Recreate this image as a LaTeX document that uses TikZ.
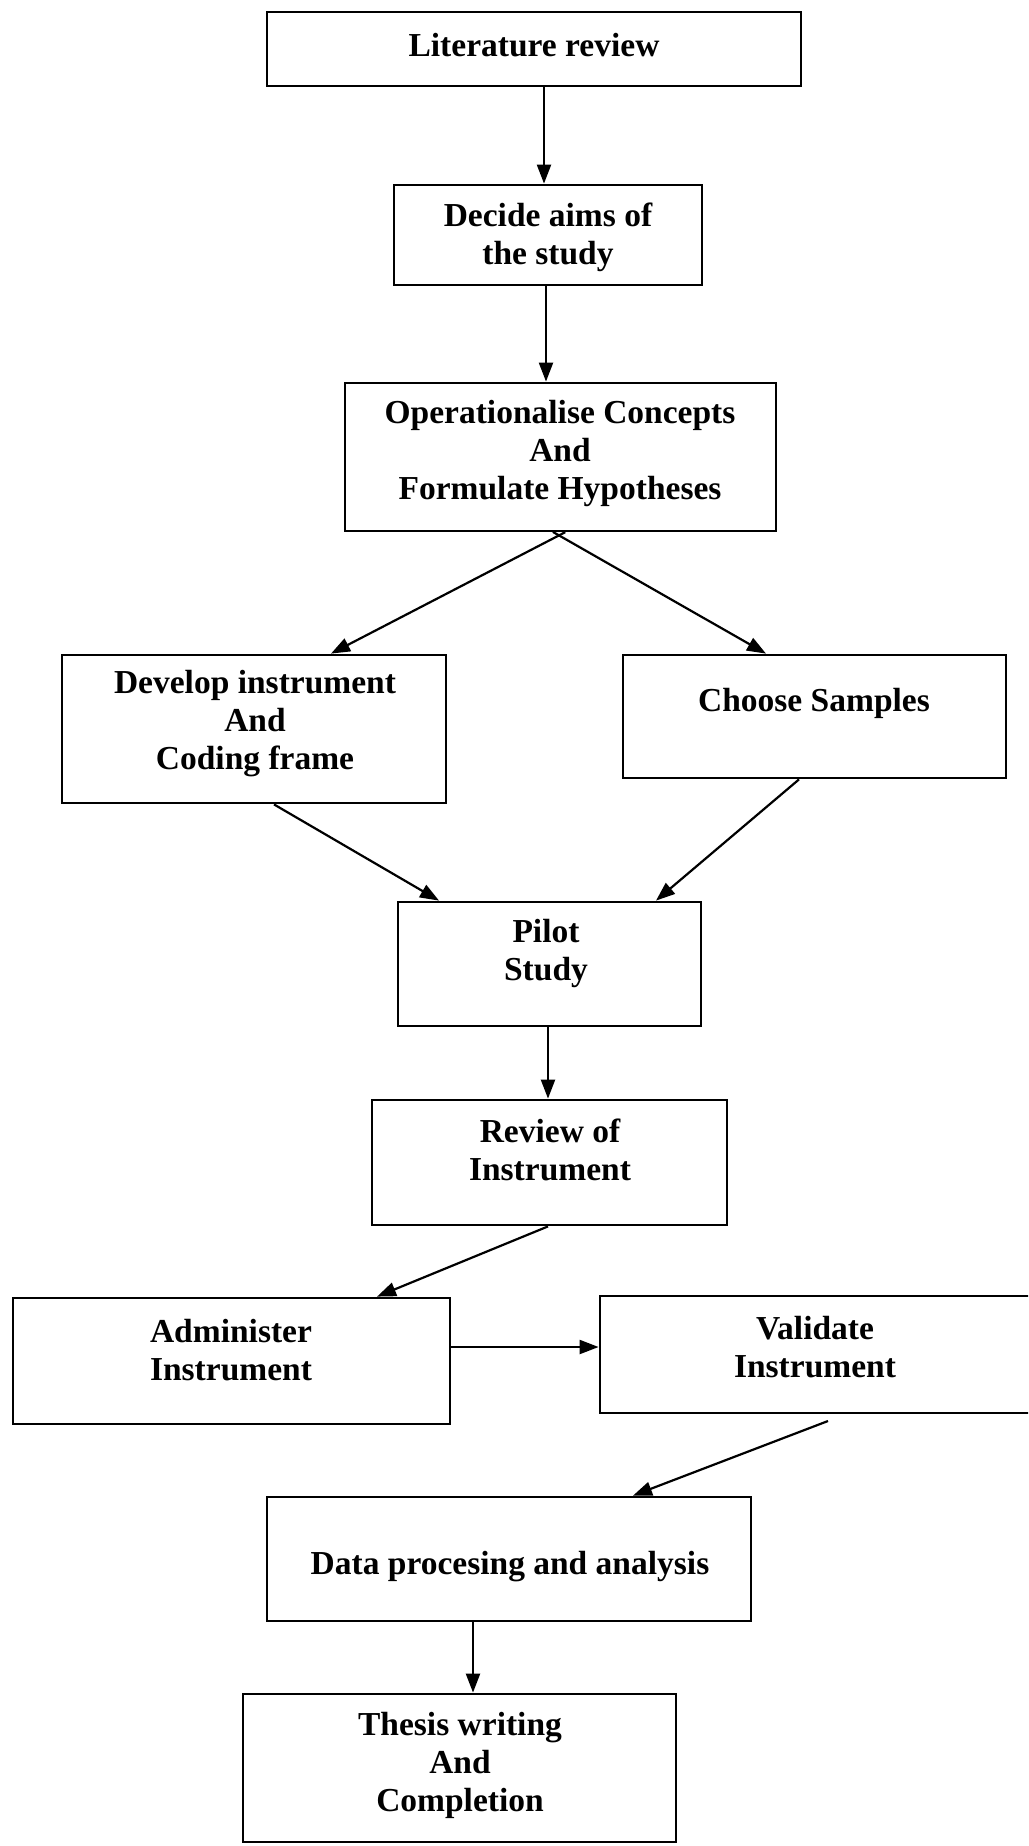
\documentclass[tikz,border=0pt]{standalone}
\usepackage{fontspec}
\setmainfont{Liberation Serif}
\usetikzlibrary{arrows.meta,calc}

\tikzset{
  box/.style={draw=black, line width=2.8pt, rectangle, inner sep=0pt, fill=white},
  lbl/.style={align=center, inner sep=0pt,
    font=\fontsize{33.5}{38}\selectfont\bfseries},
  arr/.style={line width=2.2pt, -{Triangle[length=19pt,width=14pt]}},
}

\begin{document}
\begin{tikzpicture}[x=1pt, y=-1pt]
  \useasboundingbox (0,0) rectangle (1028,1846);
  \clip (0,0) rectangle (1028,1846);
  \fill[white] (0,0) rectangle (1028,1846);

  % boxes
  \node[box, minimum width=534pt, minimum height=74pt]  (lit)    at (534,49)      {};
  \node[box, minimum width=308pt, minimum height=100pt] (aims)   at (548,235)     {};
  \node[box, minimum width=431pt, minimum height=148pt] (oper)   at (560.5,457)   {};
  \node[box, minimum width=384pt, minimum height=148pt] (dev)    at (254,729)     {};
  \node[box, minimum width=383pt, minimum height=123pt] (samp)   at (814.5,716.5) {};
  \node[box, minimum width=303pt, minimum height=124pt] (pilot)  at (549.5,964)   {};
  \node[box, minimum width=355pt, minimum height=125pt] (rev)    at (549.5,1162.5){};
  \node[box, minimum width=437pt, minimum height=126pt] (adm)    at (231.5,1361)  {};
  \node[box, minimum width=432pt, minimum height=117pt] (val)    at (816,1354.5)  {};
  \node[box, minimum width=484pt, minimum height=124pt] (data)   at (509,1559)    {};
  \node[box, minimum width=433pt, minimum height=148pt] (thesis) at (459.5,1768)  {};

  % box texts
  \node[lbl] (lit-t)    at (534,45)   {Literature review};
  \node[lbl] (aims-t)   at (548,237)  {Decide aims of\\the study};
  \node[lbl] (oper-t)   at (560,453)  {Operationalise Concepts\\And\\Formulate Hypotheses};
  \node[lbl] (dev-t)    at (255,724)  {Develop instrument\\And\\Coding frame};
  \node[lbl] (samp-t)   at (814,703)  {Choose Samples};
  \node[lbl] (pilot-t)  at (546,953)  {Pilot\\Study};
  \node[lbl] (rev-t)    at (550,1150) {Review of\\Instrument};
  \node[lbl] (adm-t)    at (231,1350) {Administer\\Instrument};
  \node[lbl] (val-t)    at (815,1347) {Validate\\Instrument};
  \node[lbl] (data-t)   at (510,1567) {Data procesing and analysis};
  \node[lbl] (thesis-t) at (460,1765) {Thesis writing\\And\\Completion};

  % connectors
  \coordinate (vs) at (828,1421);
  \draw[arr] ($(lit.south)+(10,0)$)   -- ($(aims.north)+(-4,0)$);
  \draw[arr] ($(aims.south)+(-2,0)$)  -- ($(oper.north)+(-14.5,0)$);
  \draw[arr, shorten <=-7pt] ($(oper.south)+(-1.5,3)$) -- ($(dev.north)+(77,0)$);
  \draw[arr, shorten <=-7pt] ($(oper.south)+(-1.5,3)$) -- ($(samp.north)+(-48.5,0)$);
  \draw[arr] ($(dev.south)+(20,0)$)   -- ($(pilot.north)+(-110.5,0)$);
  \draw[arr] ($(samp.south)+(-15.5,0)$) -- ($(pilot.north)+(106.5,0)$);
  \draw[arr] ($(pilot.south)+(-1.5,0)$) -- ($(rev.north)+(-1.5,0)$);
  \draw[arr] ($(rev.south)+(-1.5,0)$) -- ($(adm.north)+(145.5,0)$);
  \draw[arr] ($(adm.east)+(0,-14)$)   -- ($(val.west)+(0,-7.5)$);
  \draw[arr] (vs) -- ($(data.north)+(124,0)$);
  \draw[arr] ($(data.south)+(-36,0)$) -- ($(thesis.north)+(13.5,0)$);
\end{tikzpicture}
\end{document}
